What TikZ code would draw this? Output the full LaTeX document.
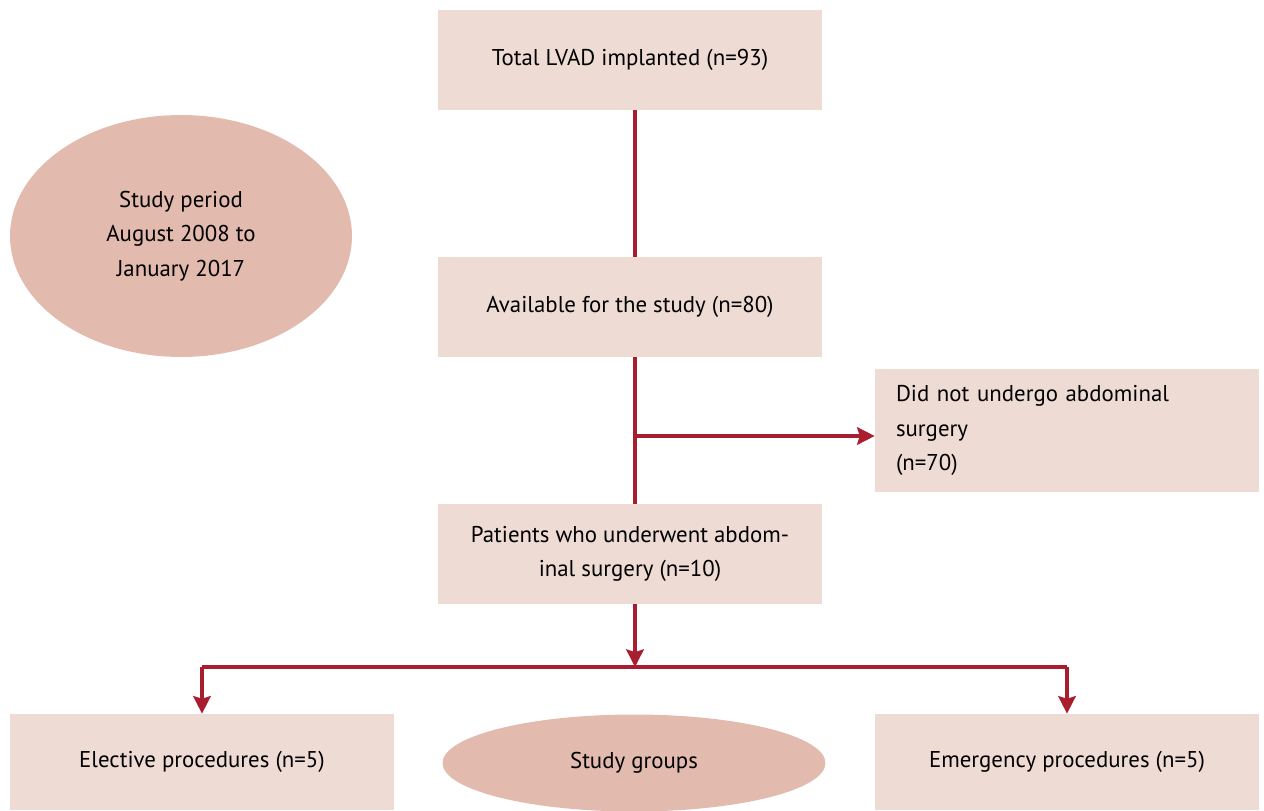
\documentclass[tikz,border=0pt]{standalone}
\usepackage{fontspec}
\setmainfont{PT Sans}
\usetikzlibrary{arrows.meta,calc,positioning,shapes.geometric}
\definecolor{boxfill}{RGB}{238,219,212}
\definecolor{ovalfill}{RGB}{226,186,174}
\definecolor{linered}{RGB}{169,30,47}

\begin{document}
\begin{tikzpicture}[
  x=0.02cm, y=-0.02cm,
  box/.style={rectangle, fill=boxfill, minimum width=7.68cm,
    minimum height=2cm, align=center, inner sep=0pt,
    font=\fontsize{13}{19.5}\selectfont},
  oval/.style={ellipse, fill=ovalfill, inner sep=0pt, align=center,
    font=\fontsize{13}{19.5}\selectfont},
  arr/.style={-{Stealth[length=10pt,width=10pt,inset=1.5pt]}, line width=1.8pt, linered},
  ln/.style={line width=1.8pt, linered},
]
\useasboundingbox (0,0) rectangle (1264,811);

\node[box] (total) at (630,60) {Total LVAD implanted (n=93)};
\node[box] (avail) at (630,307) {Available for the study (n=80)};
\node[box, minimum height=2.46cm, text width=6.84cm, align=left] (nosurg) at (1067,430.5)
  {Did not undergo abdominal\\surgery\\(n=70)};
\node[box] (patients) at (630,554) {Patients who underwent abdom-\\inal surgery (n=10)};
\node[box, minimum height=1.92cm] (elective) at (202,762) {Elective procedures (n=5)};
\node[box, minimum height=1.92cm] (emerg) at (1067,762) {Emergency procedures (n=5)};
\node[oval, minimum width=6.84cm, minimum height=4.84cm] (period) at (181,236)
  {Study period\\August 2008 to\\January 2017};
\node[oval, minimum width=7.66cm, minimum height=1.94cm] (groups) at (634,763) {Study groups};

\coordinate (branch) at (635,436);
\coordinate (split) at (635,667);

\draw[ln] (total.south -| branch) -- (avail.north -| branch);
\draw[ln] (avail.south -| branch) -- (patients.north -| branch);
\draw[arr] (branch) -- (nosurg.west |- branch);
\draw[arr] (patients.south -| split) -- (split);
\draw[ln] (elective.north |- split) -- (emerg.north |- split);
\draw[arr] (elective.north |- split) -- (elective.north);
\draw[arr] (emerg.north |- split) -- (emerg.north);
\end{tikzpicture}
\end{document}
